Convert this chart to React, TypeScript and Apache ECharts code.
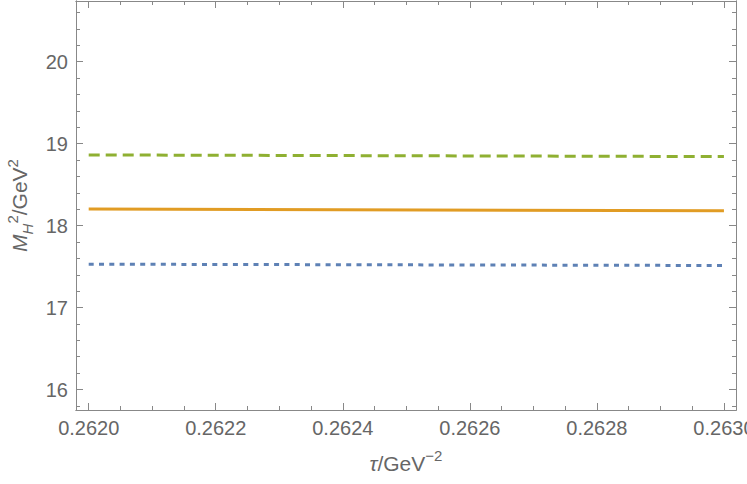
import React, { useEffect, useRef } from "react";
import * as echarts from "echarts";

// Data
const tau = [0.262, 0.263];
const mDashed = [18.862, 18.842];
const mSolid = [18.202, 18.181];
const mDotted = [17.529, 17.513];

// Ticks
const xMajor = [0.262, 0.2622, 0.2624, 0.2626, 0.2628, 0.263];
const xMinor = [
  0.26205, 0.2621, 0.26215, 0.26225, 0.2623, 0.26235, 0.26245, 0.2625, 0.26255,
  0.26265, 0.2627, 0.26275, 0.26285, 0.2629, 0.26295,
];
const yMajor = [16, 17, 18, 19, 20];
const yMinor = [
  15.8, 16.2, 16.4, 16.6, 16.8, 17.2, 17.4, 17.6, 17.8, 18.2, 18.4, 18.6, 18.8,
  19.2, 19.4, 19.6, 19.8, 20.2, 20.4, 20.6,
];

const X_MIN = 0.26198;
const X_MAX = 0.263019;
const Y_MIN = 15.75;
const Y_MAX = 20.74;

const FRAME = "#888888";
const LABEL = "#666666";
const FONT = "'Liberation Sans', Arial, sans-serif";

function xAxisDef(position: "top" | "bottom", ticks: number[], len: number, labels: boolean, extra: any = {}) {
  return {
    type: "value",
    position,
    min: X_MIN,
    max: X_MAX,
    splitLine: { show: false },
    axisLine: { show: true, lineStyle: { color: FRAME, width: 1 } },
    axisTick: { show: true, inside: true, length: len, customValues: ticks, lineStyle: { color: FRAME, width: 1 } },
    axisLabel: labels
      ? {
          show: true,
          customValues: ticks,
          formatter: (v: number) => v.toFixed(4),
          fontSize: 20,
          color: LABEL,
          fontFamily: FONT,
          margin: 8,
        }
      : { show: false },
    ...extra,
  };
}

function yAxisDef(position: "left" | "right", ticks: number[], len: number, labels: boolean, extra: any = {}) {
  return {
    type: "value",
    position,
    min: Y_MIN,
    max: Y_MAX,
    splitLine: { show: false },
    axisLine: { show: true, lineStyle: { color: FRAME, width: 1 } },
    axisTick: { show: true, inside: true, length: len, customValues: ticks, lineStyle: { color: FRAME, width: 1 } },
    axisLabel: labels
      ? {
          show: true,
          customValues: ticks,
          formatter: (v: number) => String(Math.round(v)),
          fontSize: 20,
          color: LABEL,
          fontFamily: FONT,
          margin: 8,
        }
      : { show: false },
    ...extra,
  };
}

export default function App() {
  const ref = useRef<HTMLDivElement>(null);
  useEffect(() => {
    const chart = echarts.init(ref.current!, null, { renderer: "svg" });
    const pts = (ys: number[]) => tau.map((t, i) => [t, ys[i]]);
    chart.setOption({
      animation: false,
      backgroundColor: "#ffffff",
      grid: { left: 76, right: 11, top: 1, bottom: 74, containLabel: false, outerBoundsMode: "none" },
      xAxis: [
        xAxisDef("bottom", xMajor, 7, true, {
          name: "{t|τ}/GeV{sup|−2}",
          nameLocation: "middle",
          nameGap: 38,
          nameTextStyle: {
            fontSize: 21,
            color: LABEL,
            fontFamily: FONT,
            lineHeight: 30,
            rich: {
              t: { fontSize: 21, fontStyle: "italic", color: LABEL, fontFamily: FONT },
              sup: { fontSize: 15, verticalAlign: "top", lineHeight: 15, color: LABEL, fontFamily: FONT },
            },
          },
        }),
        xAxisDef("bottom", xMinor, 4, false),
        xAxisDef("top", xMajor, 7, false),
        xAxisDef("top", xMinor, 4, false),
      ],
      yAxis: [
        yAxisDef("left", yMajor, 7, true, {
          name: "{m|M}{sub|H}{sup|2}/GeV{sup|2}",
          nameLocation: "middle",
          nameGap: 35,
          nameTextStyle: {
            fontSize: 21,
            color: LABEL,
            fontFamily: FONT,
            lineHeight: 30,
            rich: {
              m: { fontSize: 21, fontStyle: "italic", color: LABEL, fontFamily: FONT },
              sub: { fontSize: 15, fontStyle: "italic", verticalAlign: "bottom", lineHeight: 15, color: LABEL, fontFamily: FONT },
              sup: { fontSize: 15, verticalAlign: "top", lineHeight: 15, color: LABEL, fontFamily: FONT },
            },
          },
        }),
        yAxisDef("left", yMinor, 4, false),
        yAxisDef("right", yMajor, 7, false),
        yAxisDef("right", yMinor, 4, false),
      ],
      series: [
        {
          type: "line",
          xAxisIndex: 0,
          yAxisIndex: 0,
          data: pts(mDashed),
          showSymbol: false,
          symbol: "none",
          lineStyle: { color: "#8FB032", width: 3, type: [11, 6], cap: "butt" },
        },
        {
          type: "line",
          xAxisIndex: 0,
          yAxisIndex: 0,
          data: pts(mSolid),
          showSymbol: false,
          symbol: "none",
          lineStyle: { color: "#E19C24", width: 3, type: "solid" },
        },
        {
          type: "line",
          xAxisIndex: 0,
          yAxisIndex: 0,
          data: pts(mDotted),
          showSymbol: false,
          symbol: "none",
          lineStyle: { color: "#5E81B5", width: 3, type: [5, 5.3], cap: "butt" },
        },
      ],
    });
    return () => chart.dispose();
  }, []);
  return (
    <div
      ref={ref}
      style={{ position: "fixed", left: 0, top: 0, width: 747, height: 484 }}
    />
  );
}
